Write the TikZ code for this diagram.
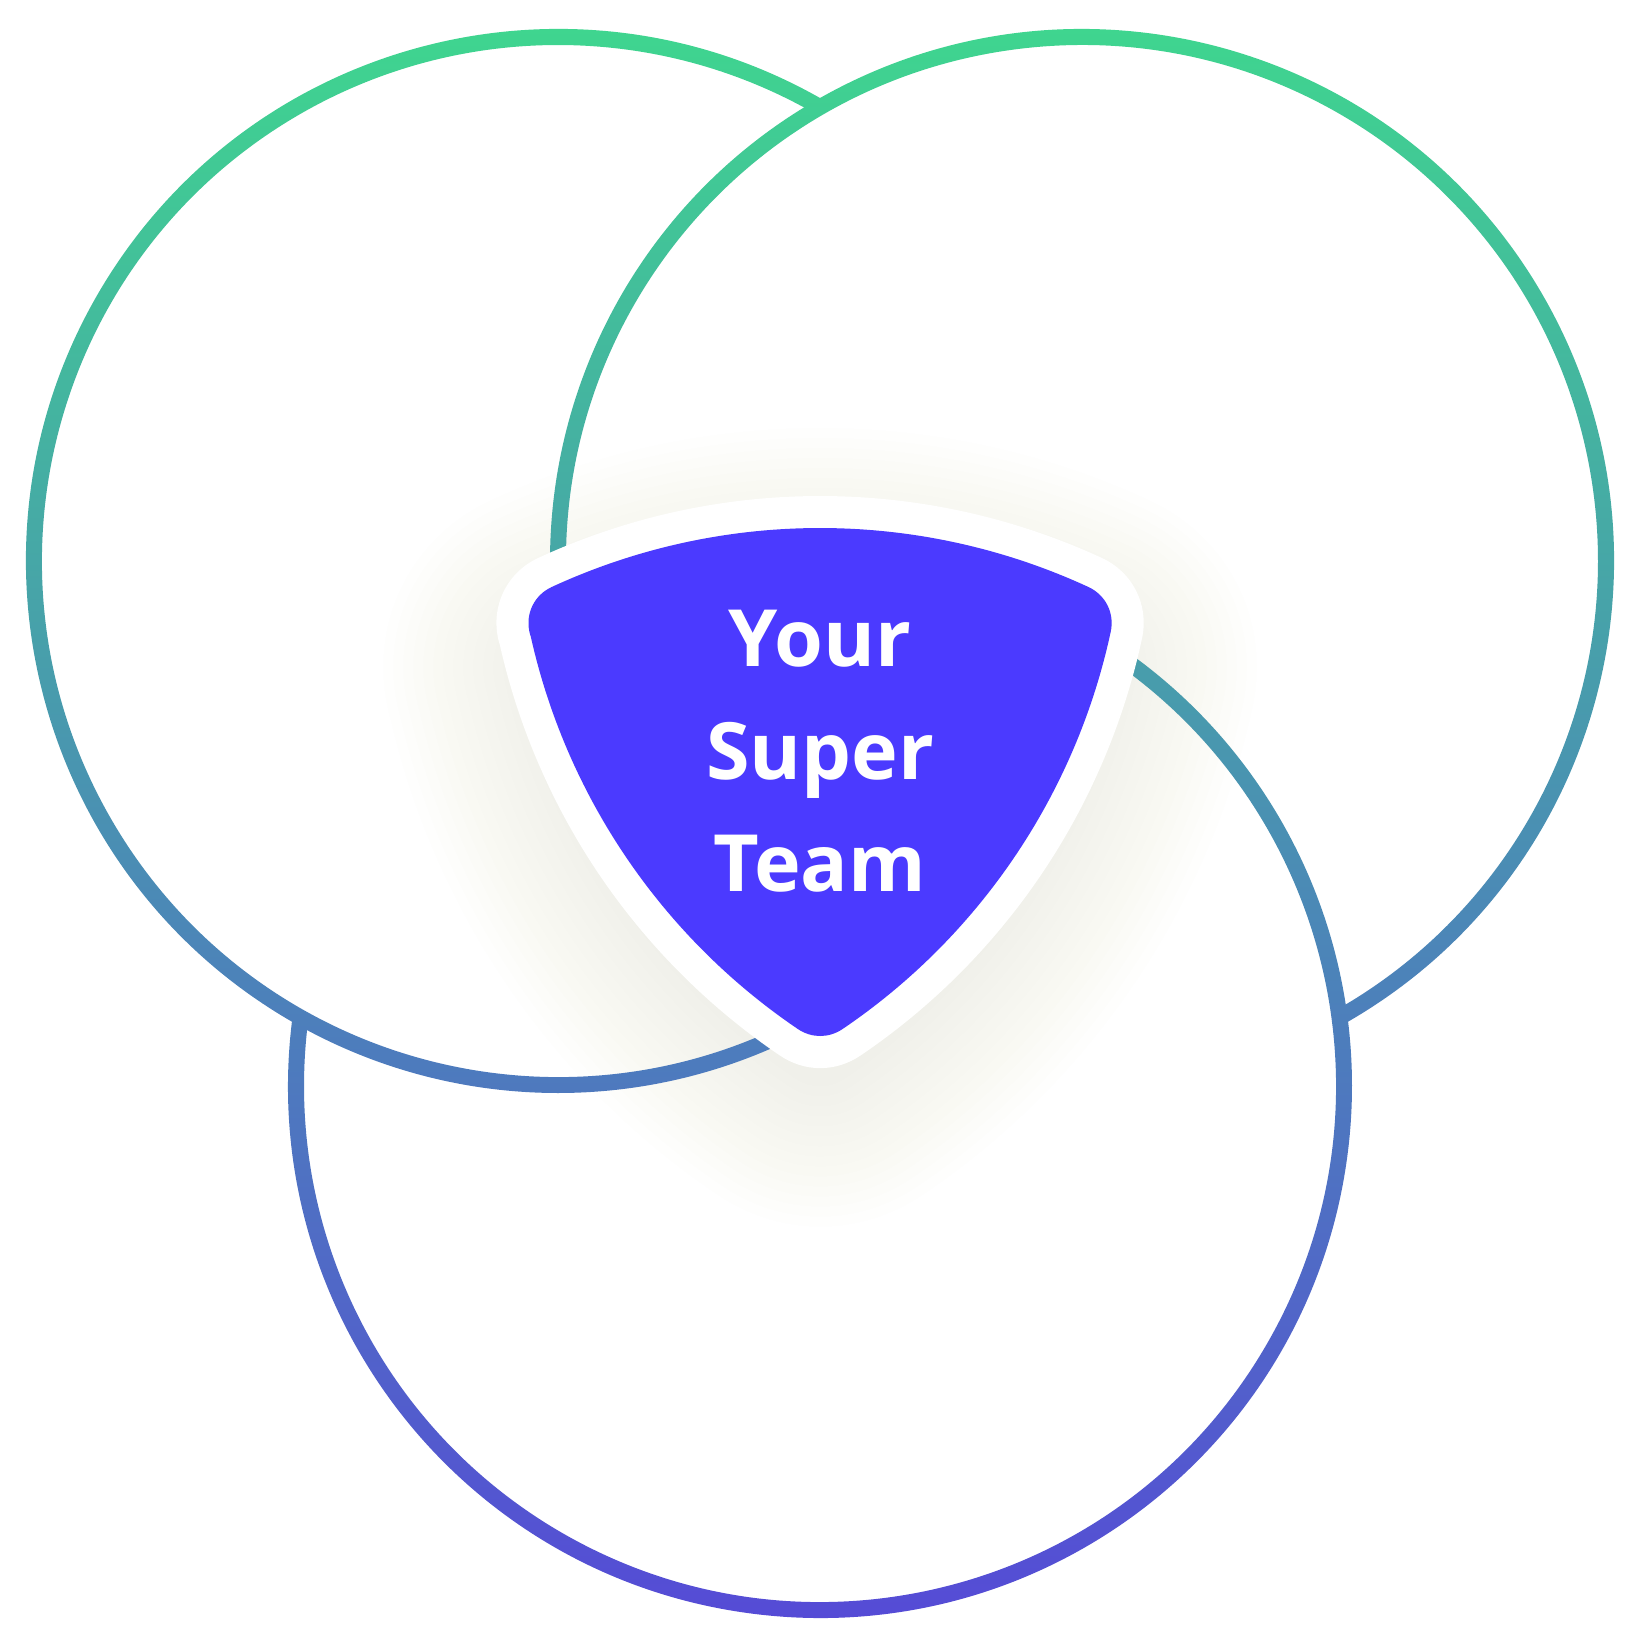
\documentclass[tikz,border=0pt]{standalone}
\usepackage{fontspec}
\newfontfamily\osans{Open Sans}
\definecolor{gtop}{RGB}{63,213,143}
\definecolor{gbot}{RGB}{85,75,214}
\definecolor{pickblue}{RGB}{75,58,255}
\definecolor{shadowc}{RGB}{190,178,158}
\newcommand\pickpath{(568.5,-623.3) arc[start angle=114.79,end angle=65.21,radius=600] arc[start angle=347.83,end angle=304.145,radius=604] arc[start angle=235.855,end angle=192.17,radius=604] -- cycle}
\begin{document}
\begin{tikzpicture}[x=1pt,y=1pt,
  labeltext/.style={text=white, font=\osans\bfseries\fontsize{79}{79}\selectfont, anchor=base, inner sep=0pt},
  ringshade/.style={top color=gtop,bottom color=gbot}]
\useasboundingbox (0,0) rectangle (1640,-1641);
\fill[white] (0,0) rectangle (1640,-1641);
% soft shadow under the pick
\foreach \w in {5,15,...,145} {
  \path[draw=shadowc, draw opacity=0.013, line join=round, line width={(80+2*\w)*1pt}, shift={(0,-45)}] \pickpath;
}
% left circle
\begin{scope}
  \clip[shift={(558,-561)}] (60:532) arc[start angle=60,end angle=300,radius=532] -- (300:516) arc[start angle=300,end angle=60,radius=516] -- cycle;
  \shade[ringshade] (0,-28) rectangle (1640,-1619);
\end{scope}
% right circle
\begin{scope}
  \clip[shift={(1082,-561)}] (-60.57:532) arc[start angle=-60.57,end angle=187.52,radius=532] -- (187.52:516) arc[start angle=187.52,end angle=-60.57,radius=516] -- cycle;
  \shade[ringshade] (0,-28) rectangle (1640,-1619);
\end{scope}
% bottom circle
\begin{scope}
  \clip[shift={(820,-1086)}] (172.48:532) arc[start angle=172.48,end angle=420.57,radius=532] -- (420.57:516) arc[start angle=420.57,end angle=172.48,radius=516] -- cycle;
  \shade[ringshade] (0,-28) rectangle (1640,-1619);
\end{scope}
% pick shape: white border, then blue
\path[draw=white, fill=white, line width=144pt, line join=round] \pickpath;
\path[draw=pickblue, fill=pickblue, line width=80pt, line join=round] \pickpath;
% text
\node[labeltext] (t1) at (820,-666.7) {Your};
\node[labeltext] (t2) at (820,-779.7) {Super};
\node[labeltext] (t3) at (820,-891.7) {Team};
\end{tikzpicture}
\end{document}
